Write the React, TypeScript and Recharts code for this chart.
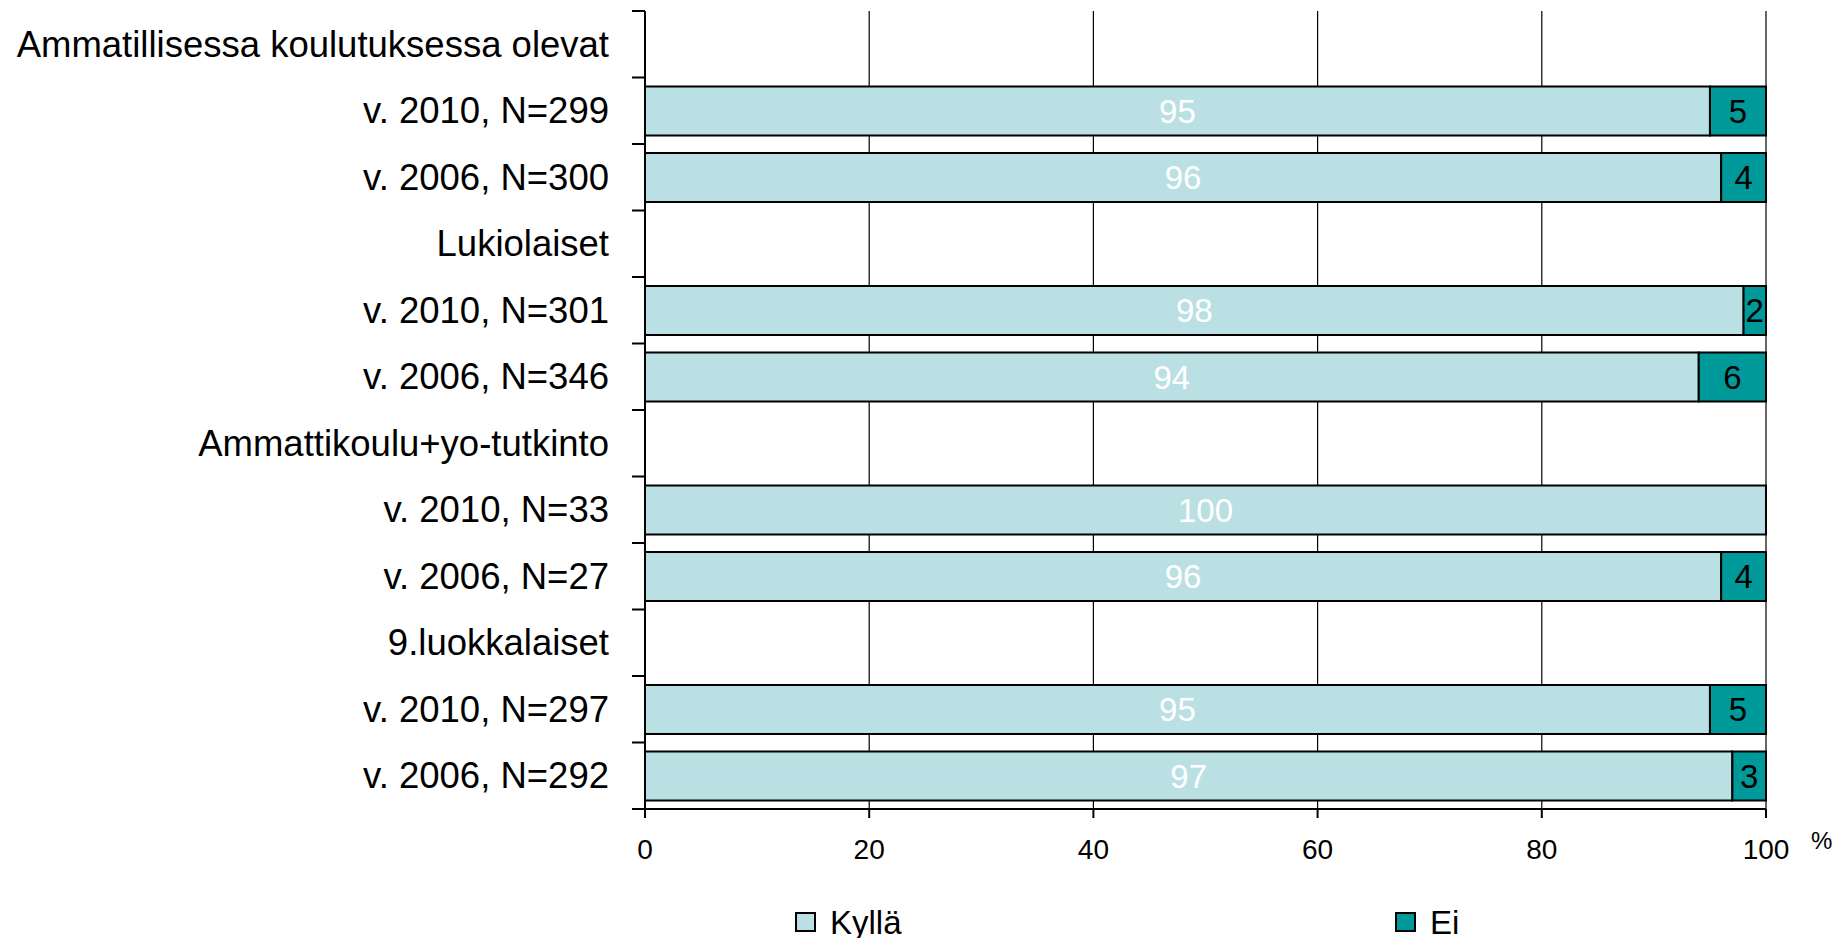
import {
  BarChart,
  Bar,
  XAxis,
  YAxis,
  CartesianGrid,
  LabelList,
  Legend,
} from 'recharts';

const categories = [
  'Ammatillisessa koulutuksessa olevat',
  'v. 2010, N=299',
  'v. 2006, N=300',
  'Lukiolaiset',
  'v. 2010, N=301',
  'v. 2006, N=346',
  'Ammattikoulu+yo-tutkinto',
  'v. 2010, N=33',
  'v. 2006, N=27',
  '9.luokkalaiset',
  'v. 2010, N=297',
  'v. 2006, N=292',
];
const kylla = [null, 95, 96, null, 98, 94, null, 100, 96, null, 95, 97];
const ei = [null, 5, 4, null, 2, 6, null, null, 4, null, 5, 3];
const xTicks = [0, 20, 40, 60, 80, 100];

const W = 1835;
const H = 938;
const M_TOP = 11;
const M_RIGHT = 69;
const YAXIS_W = 645;
const LEGEND_H = 40;
const XAXIS_H = 129 - LEGEND_H;
const BAND = (H - M_TOP - XAXIS_H - LEGEND_H) / categories.length;
const FONT = '"Liberation Sans", Arial, sans-serif';

const LIGHT = '#bbe0e3';
const TEAL = '#009999';

const data = categories.map((name, i) => ({
  name,
  kylla: kylla[i],
  ei: ei[i],
}));

const YTick = (props: any) => {
  const { y, payload, index } = props;
  const last = index === categories.length - 1;
  return (
    <g>
      <line x1={YAXIS_W - 13} x2={YAXIS_W} y1={y - BAND / 2} y2={y - BAND / 2} stroke="#000" strokeWidth={2} />
      {last && (
        <line x1={YAXIS_W - 13} x2={YAXIS_W} y1={y + BAND / 2} y2={y + BAND / 2} stroke="#000" strokeWidth={2} />
      )}
      <text
        x={YAXIS_W - 36}
        y={y}
        textAnchor="end"
        dominantBaseline="central"
        fontSize={36.5}
        fontFamily={FONT}
        fill="#000"
      >
        {payload.value}
      </text>
    </g>
  );
};

const XTick = (props: any) => {
  const { x, y, payload } = props;
  return (
    <g>
      <text x={x} y={y} dy="0.71em" textAnchor="middle" fontSize={28} fontFamily={FONT} fill="#000">
        {payload.value}
      </text>
      {payload.value === 100 && (
        <text x={x + 45} y={y - 7} dy="0.71em" fontSize={24} fontFamily={FONT} fill="#000">
          %
        </text>
      )}
    </g>
  );
};

const legendItems = [
  { label: 'Kyllä', color: LIGHT, x: 796 },
  { label: 'Ei', color: TEAL, x: 1396 },
];

// legend box sits at the very bottom; coordinates below are inside its 40px strip
const LegendContent = () => (
  <svg width={W} height={LEGEND_H} style={{ display: 'block' }}>
    {legendItems.map((it) => (
      <g key={it.label}>
        <rect x={it.x} y={15} width={19} height={18} fill={it.color} stroke="#000" strokeWidth={2} />
        <text x={it.x + 34} y={36} fontSize={33} fontFamily={FONT} fill="#000">
          {it.label}
        </text>
      </g>
    ))}
  </svg>
);

export default function App() {
  return (
    <div style={{ position: 'absolute', left: 0, top: 0, background: '#fff' }}>
      <BarChart
        width={W}
        height={H}
        data={data}
        layout="vertical"
        barSize={49}
        margin={{ top: M_TOP, right: M_RIGHT, bottom: 0, left: 0 }}
      >
        <CartesianGrid horizontal={false} stroke="#000" strokeWidth={1.2} />
        <XAxis
          type="number"
          domain={[0, 100]}
          ticks={xTicks}
          height={XAXIS_H}
          axisLine={{ stroke: '#000', strokeWidth: 2 }}
          tickLine={{ stroke: '#000', strokeWidth: 2 }}
          tickSize={9}
          tickMargin={21}
          tick={<XTick />}
        />
        <XAxis
          xAxisId="top"
          orientation="top"
          type="number"
          domain={[0, 100]}
          height={0}
          tick={false}
          tickLine={false}
          axisLine={{ stroke: '#000', strokeWidth: 2 }}
        />
        <YAxis
          type="category"
          dataKey="name"
          width={YAXIS_W}
          axisLine={{ stroke: '#000', strokeWidth: 2 }}
          tickLine={false}
          interval={0}
          tick={<YTick />}
        />
        <Legend
          verticalAlign="bottom"
          content={<LegendContent />}
          wrapperStyle={{ left: 0, bottom: 0, width: W, height: LEGEND_H }}
        />
        <Bar dataKey="kylla" name="Kyllä" stackId="a" fill={LIGHT} stroke="#000" strokeWidth={2} isAnimationActive={false}>
          <LabelList dataKey="kylla" position="center" fill="#fff" fontSize={33} fontFamily={FONT} />
        </Bar>
        <Bar dataKey="ei" name="Ei" stackId="a" fill={TEAL} stroke="#000" strokeWidth={2} isAnimationActive={false}>
          <LabelList dataKey="ei" position="center" fill="#000" fontSize={33} fontFamily={FONT} />
        </Bar>
      </BarChart>
    </div>
  );
}
